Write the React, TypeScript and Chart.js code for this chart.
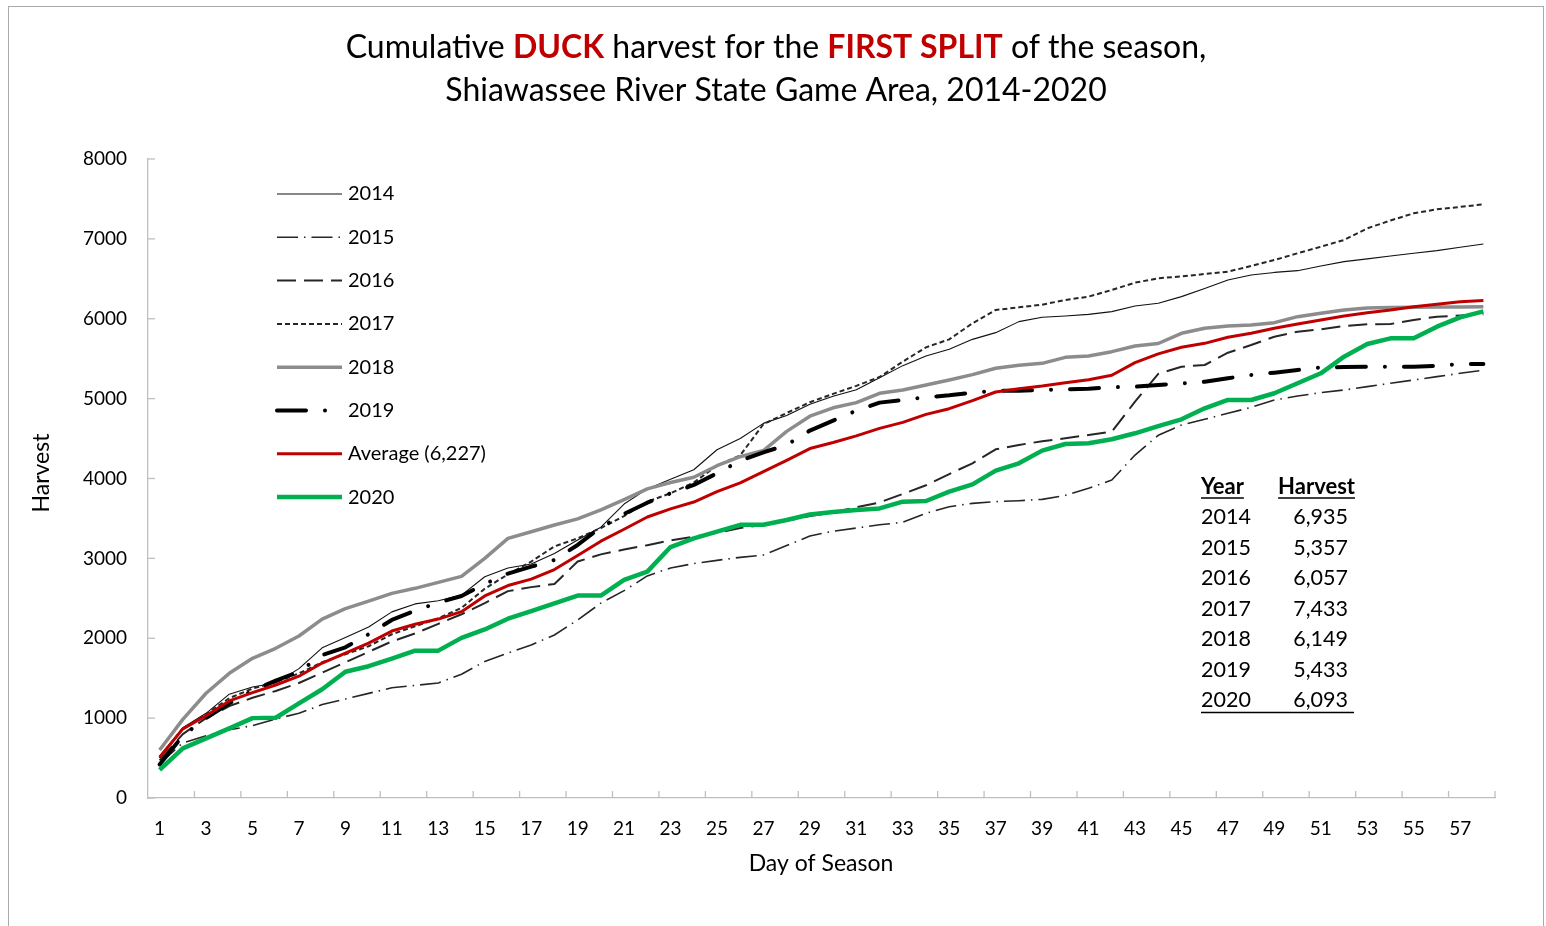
import React, { useEffect, useRef } from "react";
import { Chart, registerables } from "chart.js";
Chart.register(...registerables);

// ---------- DATA ----------
const days = [1,2,3,4,5,6,7,8,9,10,11,12,13,14,15,16,17,18,19,20,21,22,23,24,25,26,27,28,29,30,31,32,33,34,35,36,37,38,39,40,41,42,43,44,45,46,47,48,49,50,51,52,53,54,55,56,57,58];

const h2014 = [520,880,1060,1300,1390,1440,1620,1880,2010,2140,2330,2430,2470,2540,2770,2880,2930,3060,3230,3390,3680,3870,3990,4110,4360,4500,4690,4790,4930,5030,5110,5260,5413,5534,5617,5742,5826,5964,6018,6035,6055,6089,6160,6195,6277,6380,6485,6548,6580,6602,6660,6715,6750,6786,6820,6853,6895,6935];
const h2015 = [430,690,780,855,905,990,1060,1170,1240,1310,1380,1410,1440,1550,1710,1815,1916,2041,2229,2440,2596,2780,2880,2935,2975,3013,3042,3160,3280,3340,3380,3420,3452,3564,3647,3689,3710,3722,3739,3789,3877,3981,4294,4541,4670,4741,4816,4891,4983,5033,5075,5108,5150,5192,5233,5275,5317,5357];
const h2016 = [470,800,1000,1150,1255,1340,1440,1570,1700,1830,1960,2060,2180,2300,2440,2590,2640,2680,2960,3050,3110,3165,3225,3270,3320,3380,3420,3470,3530,3575,3640,3700,3806,3915,4056,4190,4365,4420,4466,4503,4545,4586,4962,5310,5400,5421,5575,5671,5775,5838,5868,5909,5930,5934,5985,6026,6040,6057];
const h2017 = [500,870,1050,1250,1370,1450,1560,1700,1800,1900,2050,2150,2250,2380,2620,2800,2960,3150,3250,3380,3530,3710,3815,3950,4160,4290,4680,4820,4955,5060,5160,5270,5463,5642,5742,5943,6110,6143,6176,6235,6277,6360,6452,6506,6530,6560,6590,6660,6735,6820,6902,6986,7132,7230,7320,7370,7400,7433];
const h2018 = [601,985,1311,1561,1749,1874,2028,2240,2370,2465,2562,2625,2700,2775,3000,3250,3334,3418,3495,3606,3735,3870,3950,4015,4160,4273,4350,4590,4780,4885,4950,5067,5108,5171,5233,5300,5380,5417,5442,5517,5534,5588,5659,5690,5818,5880,5909,5922,5951,6026,6068,6110,6135,6140,6145,6147,6148,6149];
const h2019 = [420,780,1000,1185,1344,1470,1580,1790,1887,2050,2229,2345,2445,2529,2680,2810,2896,2980,3168,3390,3556,3697,3815,3919,4065,4223,4328,4420,4600,4725,4850,4950,4983,5016,5042,5075,5100,5100,5108,5117,5125,5142,5150,5171,5190,5212,5255,5296,5325,5358,5392,5395,5400,5400,5400,5410,5433,5433];
const hAverage = [510,865,1030,1215,1320,1415,1525,1690,1815,1940,2090,2175,2240,2333,2530,2660,2740,2860,3035,3215,3365,3518,3620,3705,3835,3945,4085,4228,4375,4450,4534,4628,4703,4803,4874,4974,5083,5125,5158,5200,5237,5292,5450,5560,5643,5692,5768,5818,5880,5934,5985,6035,6076,6110,6151,6181,6214,6227];
const h2020 = [351,622,747,872,1000,1005,1185,1361,1580,1650,1745,1845,1845,2005,2110,2245,2340,2437,2535,2535,2730,2834,3142,3250,3335,3420,3420,3480,3550,3580,3606,3625,3710,3718,3835,3927,4098,4190,4349,4432,4441,4491,4566,4655,4741,4879,4983,4983,5067,5192,5317,5525,5684,5755,5755,5901,6018,6093];

const seriesNames = ["2014", "2015", "2016", "2017", "2018", "2019", "Average (6,227)", "2020"];

const yTickValues = [0, 1000, 2000, 3000, 4000, 5000, 6000, 7000, 8000];

const tableYears = ["2014", "2015", "2016", "2017", "2018", "2019", "2020"];
const tableHarvest = [6935, 5357, 6057, 7433, 6149, 5433, 6093];

const titleLine1 = [
  { text: "Cumulative ", bold: false, red: false },
  { text: "DUCK", bold: true, red: true },
  { text: " harvest for the ", bold: false, red: false },
  { text: "FIRST SPLIT", bold: true, red: true },
  { text: " of the season,", bold: false, red: false },
];
const titleLine2 = "Shiawassee River State Game Area, 2014-2020";
const xTitle = "Day of Season";
const yTitle = "Harvest";

// ---------- STYLE ----------
const FONT = "Lato, 'Open Sans', sans-serif";
const AXIS_COLOR = "#BFBFBF";

const overlayPlugin = {
  id: "overlay",
  afterDraw(chart: any) {
    const ctx = chart.ctx as CanvasRenderingContext2D;
    const { left, bottom } = chart.chartArea;
    const xs = chart.scales.x;
    const ys = chart.scales.y;
    ctx.save();

    // outer frame
    ctx.strokeStyle = "#ABABAB";
    ctx.lineWidth = 1;
    ctx.setLineDash([]);
    ctx.strokeRect(8.5, 6.5, 1535, 940);

    // inner tick marks
    ctx.strokeStyle = AXIS_COLOR;
    ctx.lineWidth = 1.3;
    yTickValues.forEach((v) => {
      const y = ys.getPixelForValue(v);
      ctx.beginPath();
      ctx.moveTo(left, y);
      ctx.lineTo(left + 7, y);
      ctx.stroke();
    });
    const step = xs.getPixelForValue(1) - xs.getPixelForValue(0);
    for (let k = 2; k <= days.length; k += 2) {
      const x = xs.getPixelForValue(k - 1) + step / 2;
      ctx.beginPath();
      ctx.moveTo(x, bottom);
      ctx.lineTo(x, bottom - 7);
      ctx.stroke();
    }

    // title
    ctx.textBaseline = "middle";
    ctx.fillStyle = "#000";
    const tSize = 32;
    const segFont = (b: boolean) => `${b ? "bold " : ""}${tSize}px ${FONT}`;
    let total = 0;
    titleLine1.forEach((s) => {
      ctx.font = segFont(s.bold);
      total += ctx.measureText(s.text).width;
    });
    let tx = 776 - total / 2;
    ctx.textAlign = "left";
    titleLine1.forEach((s) => {
      ctx.font = segFont(s.bold);
      ctx.fillStyle = s.red ? "#C00000" : "#000";
      ctx.fillText(s.text, tx, 48);
      tx += ctx.measureText(s.text).width;
    });
    ctx.font = segFont(false);
    ctx.fillStyle = "#000";
    ctx.textAlign = "center";
    ctx.fillText(titleLine2, 776, 91);

    // axis titles
    ctx.font = `23px ${FONT}`;
    ctx.fillText(xTitle, 821, 864);
    ctx.save();
    ctx.translate(42, 473);
    ctx.rotate(-Math.PI / 2);
    ctx.fillText(yTitle, 0, 0);
    ctx.restore();

    // legend
    const datasets = chart.data.datasets;
    datasets.forEach((ds: any, i: number) => {
      const y = 194 + i * 43.3;
      ctx.save();
      ctx.strokeStyle = ds.borderColor;
      ctx.lineWidth = ds.borderWidth;
      ctx.lineCap = ds.borderCapStyle || "butt";
      ctx.setLineDash(ds.borderDash || []);
      ctx.beginPath();
      ctx.moveTo(277, y);
      ctx.lineTo(342, y);
      ctx.stroke();
      ctx.restore();
      ctx.font = `20px ${FONT}`;
      ctx.fillStyle = "#000";
      ctx.textAlign = "left";
      ctx.fillText(ds.label, 348, y);
    });

    // table
    ctx.font = `bold 22px ${FONT}`;
    ctx.textAlign = "left";
    ctx.fillText("Year", 1201, 487);
    const wYear = ctx.measureText("Year").width;
    ctx.textAlign = "right";
    ctx.fillText("Harvest", 1355, 487);
    const wHarv = ctx.measureText("Harvest").width;
    ctx.strokeStyle = "#000";
    ctx.lineWidth = 1.5;
    ctx.beginPath();
    ctx.moveTo(1201, 498);
    ctx.lineTo(1201 + wYear, 498);
    ctx.moveTo(1355 - wHarv, 498);
    ctx.lineTo(1355, 498);
    ctx.stroke();
    ctx.font = `21.5px ${FONT}`;
    tableYears.forEach((yr, i) => {
      const y = 517.5 + i * 30.5;
      ctx.textAlign = "left";
      ctx.fillText(yr, 1201, y);
      ctx.textAlign = "right";
      ctx.fillText(tableHarvest[i].toLocaleString("en-US"), 1348, y);
    });
    ctx.beginPath();
    ctx.moveTo(1201, 712.5);
    ctx.lineTo(1354, 712.5);
    ctx.stroke();

    ctx.restore();
  },
};

export default function App() {
  const ref = useRef<HTMLCanvasElement | null>(null);

  useEffect(() => {
    if (!ref.current) return;
    const mk = (label: string, data: number[], color: string, width: number, dash: number[], order: number, cap = "butt") => ({
      label,
      data,
      borderColor: color,
      backgroundColor: color,
      borderWidth: width,
      borderDash: dash,
      borderCapStyle: cap,
      borderJoinStyle: "round",
      pointRadius: 0,
      tension: 0,
      fill: false,
      order,
    });
    const chart = new Chart(ref.current, {
      type: "line",
      data: {
        labels: days.map(String),
        datasets: [
          mk(seriesNames[0], h2014, "#111111", 1.1, [], 7),
          mk(seriesNames[1], h2015, "#262626", 1.6, [21, 6, 1.5, 6], 6),
          mk(seriesNames[2], h2016, "#262626", 2, [19, 8], 5),
          mk(seriesNames[3], h2017, "#262626", 2, [5, 3], 4),
          mk(seriesNames[4], h2018, "#8C8C8C", 3.5, [], 3),
          mk(seriesNames[5], h2019, "#000000", 4, [29, 19, 0.01, 19], 2, "round"),
          mk(seriesNames[6], hAverage, "#C00000", 3, [], 1),
          mk(seriesNames[7], h2020, "#00B050", 4.5, [], 0),
        ] as any,
      },
      options: {
        animation: false,
        responsive: false,
        maintainAspectRatio: false,
        devicePixelRatio: 1,
        layout: { padding: { left: 0, top: 159, right: 51, bottom: 68 } },
        plugins: {
          legend: { display: false },
          title: { display: false },
          tooltip: { enabled: false },
        },
        scales: {
          x: {
            type: "category",
            offset: true,
            grid: { display: false },
            border: { display: true, color: AXIS_COLOR, width: 1.3 },
            ticks: {
              autoSkip: false,
              maxRotation: 0,
              minRotation: 0,
              padding: 11,
              color: "#000",
              font: { family: FONT, size: 19 },
              callback: (_v: any, i: number) => (i % 2 === 0 ? String(days[i]) : ""),
            },
            afterFit: (s: any) => {
              s.height = 60;
            },
          },
          y: {
            min: 0,
            max: 8000,
            grid: { display: false },
            border: { display: true, color: AXIS_COLOR, width: 1.3 },
            ticks: {
              stepSize: 1000,
              padding: 13,
              color: "#000",
              font: { family: FONT, size: 19 },
              callback: (v: any) => String(v),
            },
            afterFit: (s: any) => {
              s.width = 148;
            },
          },
        },
      } as any,
      plugins: [overlayPlugin],
    });
    return () => chart.destroy();
  }, []);

  return (
    <div style={{ position: "absolute", left: 0, top: 0, width: 1546, height: 926, background: "#fff" }}>
      <canvas ref={ref} width={1546} height={926} style={{ display: "block" }} />
    </div>
  );
}
